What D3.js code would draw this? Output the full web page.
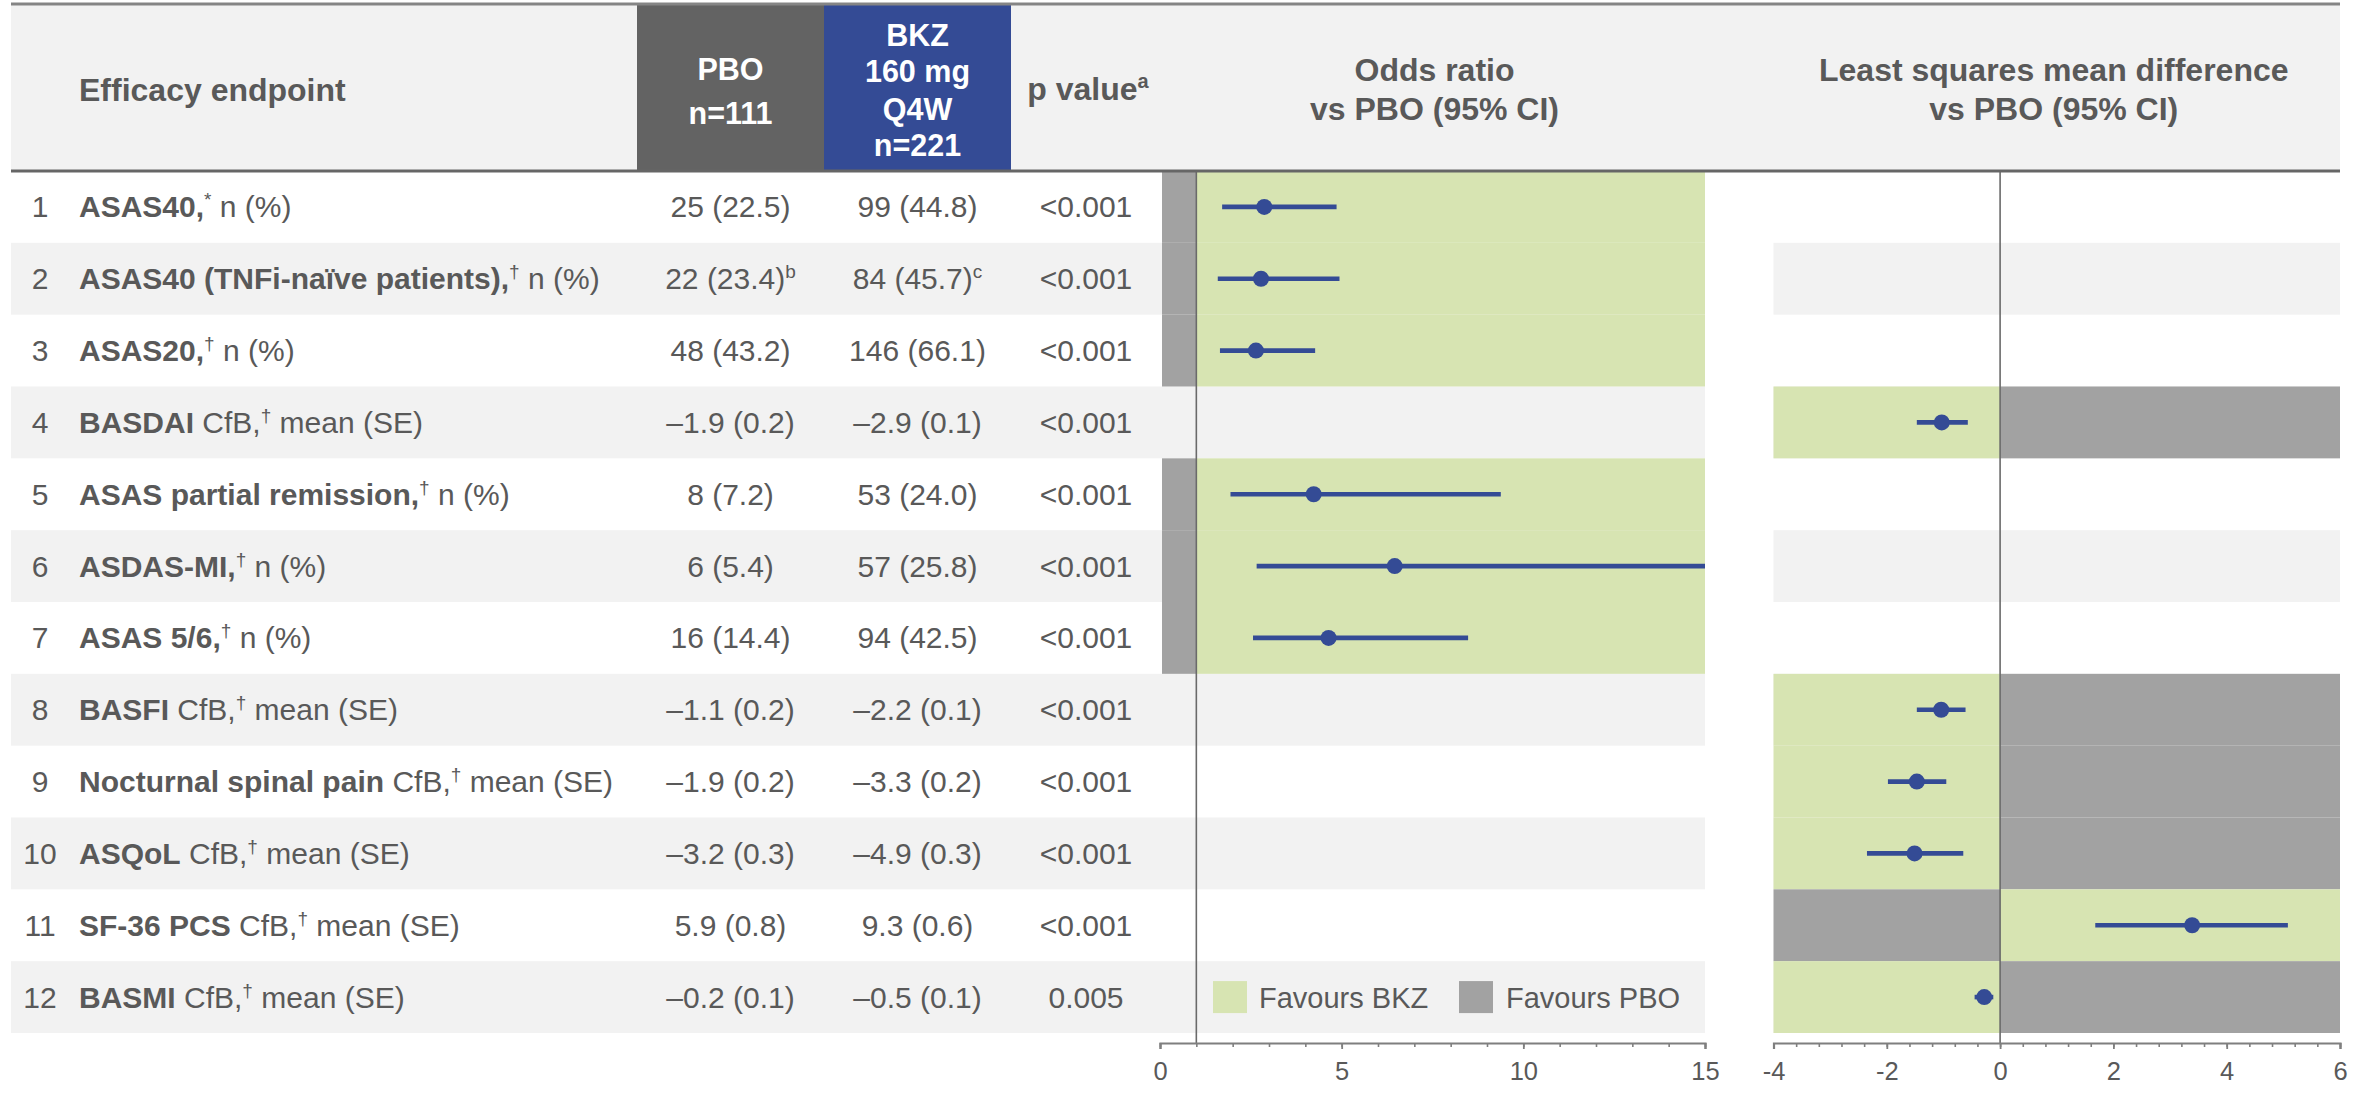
<!DOCTYPE html>
<html>
<head>
<meta charset="utf-8">
<script src="https://cdn.jsdelivr.net/npm/d3@7"></script>
<style>
  html, body { margin: 0; padding: 0; background: #ffffff; }
  svg { display: block; font-family: "Liberation Sans", Arial, Helvetica, sans-serif; }
  text { white-space: pre; }
</style>
</head>
<body>
<svg id="chart" width="2372" height="1097"></svg>
<script>
// ---- Table content -------------------------------------------------------
const endpointNames = [
  "ASAS40", "ASAS40 (TNFi-naïve patients)", "ASAS20", "BASDAI",
  "ASAS partial remission", "ASDAS-MI", "ASAS 5/6", "BASFI",
  "Nocturnal spinal pain", "ASQoL", "SF-36 PCS", "BASMI"
];
// "resp" = responder endpoint, n (%); "cfb" = change from baseline, mean (SE)
const endpointKinds = ["resp", "resp", "resp", "cfb", "resp", "resp", "resp", "cfb", "cfb", "cfb", "cfb", "cfb"];
const endpointMarks = ["*", "†", "†", "†", "†", "†", "†", "†", "†", "†", "†", "†"];

const pboValues = ["25 (22.5)", "22 (23.4)", "48 (43.2)", "–1.9 (0.2)", "8 (7.2)", "6 (5.4)",
                   "16 (14.4)", "–1.1 (0.2)", "–1.9 (0.2)", "–3.2 (0.3)", "5.9 (0.8)", "–0.2 (0.1)"];
const pboNotes  = ["", "b", "", "", "", "", "", "", "", "", "", ""];
const bkzValues = ["99 (44.8)", "84 (45.7)", "146 (66.1)", "–2.9 (0.1)", "53 (24.0)", "57 (25.8)",
                   "94 (42.5)", "–2.2 (0.1)", "–3.3 (0.2)", "–4.9 (0.3)", "9.3 (0.6)", "–0.5 (0.1)"];
const bkzNotes  = ["", "c", "", "", "", "", "", "", "", "", "", ""];
const pValues   = ["<0.001", "<0.001", "<0.001", "<0.001", "<0.001", "<0.001",
                   "<0.001", "<0.001", "<0.001", "<0.001", "<0.001", "0.005"];

// ---- Odds ratio vs PBO (95% CI), responder endpoints -----------------------
const orEst  = [2.87, 2.78, 2.64, null, 4.23, 6.46, 4.64, null, null, null, null, null];
const orLow  = [1.71, 1.59, 1.65, null, 1.94, 2.66, 2.56, null, null, null, null, null];
const orHigh = [4.86, 4.94, 4.27, null, 9.38, 15.8, 8.48, null, null, null, null, null];

// ---- Least squares mean difference vs PBO (95% CI), CfB endpoints -----------
const lsEst  = [null, null, null, -1.03, null, null, null, -1.04, -1.47, -1.51, 3.39, -0.28];
const lsLow  = [null, null, null, -1.47, null, null, null, -1.47, -1.98, -2.35, 1.68, -0.45];
const lsHigh = [null, null, null, -0.57, null, null, null, -0.61, -0.95, -0.65, 5.08, -0.12];
// direction of improvement for each CfB endpoint
const lsBetter = [null, null, null, "lower", null, null, null, "lower", "lower", "lower", "higher", "lower"];

// ---- Axes -------------------------------------------------------------------
const orTicks = [0, 5, 10, 15];
const orMinorTicks = d3.range(0, 16, 1);
const lsTicks = [-4, -2, 0, 2, 4, 6];
const lsMinorTicks = d3.range(0, 26).map(i => -4 + i * 0.4);

const legendItems = ["Favours BKZ", "Favours PBO"];

// ---- Styling ----------------------------------------------------------------
const TEXT = "#595959", BAND = "#f2f2f2", GREEN = "#d7e4b2", GREY = "#a2a2a2",
      BLUE = "#344b95", PBO_FILL = "#636363", AXIS = "#7f7f7f";

const svg = d3.select("#chart");
const rows = d3.range(endpointNames.length);

const y = d3.scaleBand().domain(rows).range([171, 1033]);
const yc = i => y(i) + y.bandwidth() / 2;
const orX = d3.scaleLinear().domain([0, 15]).range([1160, 1705]);
const lsX = d3.scaleLinear().domain([-4, 6]).range([1773.5, 2340]);
const axisY = 1043;

// ---- Header band -----------------------------------------------------------------
svg.append("rect").attr("x", 11).attr("y", 5).attr("width", 2329).attr("height", 166).attr("fill", BAND);
svg.append("rect").attr("x", 637).attr("y", 5).attr("width", 187).attr("height", 166).attr("fill", PBO_FILL);
svg.append("rect").attr("x", 824).attr("y", 5).attr("width", 187).attr("height", 166).attr("fill", BLUE);

// ---- Row bands -----------------------------------------------------------------
const bands = svg.append("g");
rows.filter(i => i % 2 === 1).forEach(i => {
  bands.append("rect").attr("x", 11).attr("y", y(i)).attr("width", orX(15) - 11)
    .attr("height", y.bandwidth()).attr("fill", BAND);
  bands.append("rect").attr("x", lsX(-4)).attr("y", y(i)).attr("width", lsX(6) - lsX(-4))
    .attr("height", y.bandwidth()).attr("fill", BAND);
});

// ---- Favours shading ---------------------------------------------------------------
const shade = svg.append("g");
rows.filter(i => orEst[i] != null).forEach(i => {
  shade.append("rect").attr("x", orX(0) + 2).attr("y", y(i)).attr("width", orX(1) - orX(0) - 2)
    .attr("height", y.bandwidth()).attr("fill", GREY);
  shade.append("rect").attr("x", orX(1)).attr("y", y(i)).attr("width", orX(15) - orX(1))
    .attr("height", y.bandwidth()).attr("fill", GREEN);
});
rows.filter(i => lsEst[i] != null).forEach(i => {
  const lowerGood = lsBetter[i] === "lower";
  shade.append("rect").attr("x", lsX(-4)).attr("y", y(i)).attr("width", lsX(0) - lsX(-4))
    .attr("height", y.bandwidth()).attr("fill", lowerGood ? GREEN : GREY);
  shade.append("rect").attr("x", lsX(0)).attr("y", y(i)).attr("width", lsX(6) - lsX(0))
    .attr("height", y.bandwidth()).attr("fill", lowerGood ? GREY : GREEN);
});

// ---- Reference lines (OR = 1, difference = 0) -----------------------------------------
svg.append("line").attr("x1", orX(1)).attr("x2", orX(1)).attr("y1", 171).attr("y2", axisY)
  .attr("stroke", "#6a6a6a").attr("stroke-width", 1.6);
svg.append("line").attr("x1", lsX(0)).attr("x2", lsX(0)).attr("y1", 171).attr("y2", axisY)
  .attr("stroke", "#6a6a6a").attr("stroke-width", 1.6);

// ---- Header lines ---------------------------------------------------------------
svg.append("line").attr("x1", 11).attr("x2", 2340).attr("y1", 4).attr("y2", 4)
  .attr("stroke", "#858585").attr("stroke-width", 3);
svg.append("line").attr("x1", 11).attr("x2", 2340).attr("y1", 171).attr("y2", 171)
  .attr("stroke", "#666666").attr("stroke-width", 3);

// ---- Header texts -------------------------------------------------------------
const hdr = svg.append("g").attr("font-weight", "bold").attr("font-size", 32).attr("fill", TEXT);
hdr.append("text").attr("x", 79).attr("y", 101).text("Efficacy endpoint");
const pv = hdr.append("text").attr("x", 1088).attr("y", 100).attr("text-anchor", "middle");
pv.append("tspan").text("p value");
pv.append("tspan").attr("font-size", 20).attr("dy", -12).text("a");
[["Odds ratio", "vs PBO (95% CI)", (orX(0) + orX(15)) / 2 + 2],
 ["Least squares mean difference", "vs PBO (95% CI)", (lsX(-4) + lsX(6)) / 2 - 3]].forEach(([a, b, cx]) => {
  hdr.append("text").attr("x", cx).attr("y", 81).attr("text-anchor", "middle").text(a);
  hdr.append("text").attr("x", cx).attr("y", 120).attr("text-anchor", "middle").text(b);
});
const box = svg.append("g").attr("font-weight", "bold").attr("font-size", 30.5).attr("fill", "#ffffff")
  .attr("text-anchor", "middle");
[["PBO", 80], ["n=111", 124]].forEach(([t, yy]) => box.append("text").attr("x", 730.5).attr("y", yy).text(t));
[["BKZ", 46], ["160 mg", 82], ["Q4W", 120], ["n=221", 156]].forEach(([t, yy]) =>
  box.append("text").attr("x", 917.5).attr("y", yy).text(t));

// ---- Table rows ---------------------------------------------------------------
const tbl = svg.append("g").attr("font-size", 30).attr("fill", TEXT);
const SUP = 19, SUPDY = 11;
rows.forEach(i => {
  const base = yc(i) + 10.5;
  tbl.append("text").attr("x", 40).attr("y", base).attr("text-anchor", "middle").text(String(i + 1));

  const t = tbl.append("text").attr("x", 79).attr("y", base);
  if (endpointKinds[i] === "resp") {
    t.append("tspan").attr("font-weight", "bold").text(endpointNames[i] + ",");
  } else {
    t.append("tspan").attr("font-weight", "bold").text(endpointNames[i]);
    t.append("tspan").text(" CfB,");
  }
  t.append("tspan").attr("font-size", SUP).attr("dy", -SUPDY).text(endpointMarks[i]);
  t.append("tspan").attr("dy", SUPDY).text(endpointKinds[i] === "resp" ? " n (%)" : " mean (SE)");

  [[730.5, pboValues[i], pboNotes[i]], [917.5, bkzValues[i], bkzNotes[i]]].forEach(([cx, v, note]) => {
    const c = tbl.append("text").attr("x", cx).attr("y", base).attr("text-anchor", "middle");
    c.append("tspan").text(v);
    if (note) c.append("tspan").attr("font-size", SUP).attr("dy", -SUPDY).text(note);
  });
  tbl.append("text").attr("x", 1086).attr("y", base).attr("text-anchor", "middle").text(pValues[i]);
});

// ---- Forest marks ----------------------------------------------------------------
function forest(scale, est, lo, hi) {
  const g = svg.append("g");
  const [d0, d1] = scale.domain();
  const clampX = v => scale(Math.max(d0, Math.min(d1, v)));
  rows.filter(i => est[i] != null).forEach(i => {
    g.append("line").attr("x1", clampX(lo[i])).attr("x2", clampX(hi[i]))
      .attr("y1", yc(i)).attr("y2", yc(i)).attr("stroke", BLUE).attr("stroke-width", 4.6);
    g.append("circle").attr("cx", scale(est[i])).attr("cy", yc(i)).attr("r", 8).attr("fill", BLUE);
  });
}
forest(orX, orEst, orLow, orHigh);
forest(lsX, lsEst, lsLow, lsHigh);

// ---- Legend (inside the odds-ratio panel, last row) --------------------------------
const lg = svg.append("g").attr("font-size", 29).attr("fill", TEXT);
const legCy = yc(11);
[[1213, GREEN, 1259], [1459, GREY, 1506]].forEach(([x0, col, tx], k) => {
  lg.append("rect").attr("x", x0).attr("y", legCy - 16).attr("width", 34).attr("height", 32).attr("fill", col);
  lg.append("text").attr("x", tx).attr("y", legCy + 10.5).text(legendItems[k]);
});

// ---- Axes ---------------------------------------------------------------------
function drawAxis(scale, major, minor) {
  const g = svg.append("g").attr("transform", `translate(0,${axisY})`).attr("color", AXIS);
  g.append("g").call(d3.axisBottom(scale).tickValues(minor).tickSize(4).tickSizeOuter(0).tickFormat(""))
    .call(s => s.select(".domain").remove())
    .selectAll("line").attr("stroke-width", 1.6);
  const m = g.append("g").call(d3.axisBottom(scale).tickValues(major).tickSize(6).tickSizeOuter(6)
      .tickPadding(13).tickFormat(d => String(d)));
  m.select(".domain").attr("stroke-width", 2.2);
  m.selectAll("line").attr("stroke-width", 1.8);
  m.selectAll("text").attr("fill", TEXT).attr("font-size", 25.5)
    .attr("font-family", "\"Liberation Sans\", Arial, sans-serif");
}
drawAxis(orX, orTicks, orMinorTicks);
drawAxis(lsX, lsTicks, lsMinorTicks);
</script>
</body>
</html>
